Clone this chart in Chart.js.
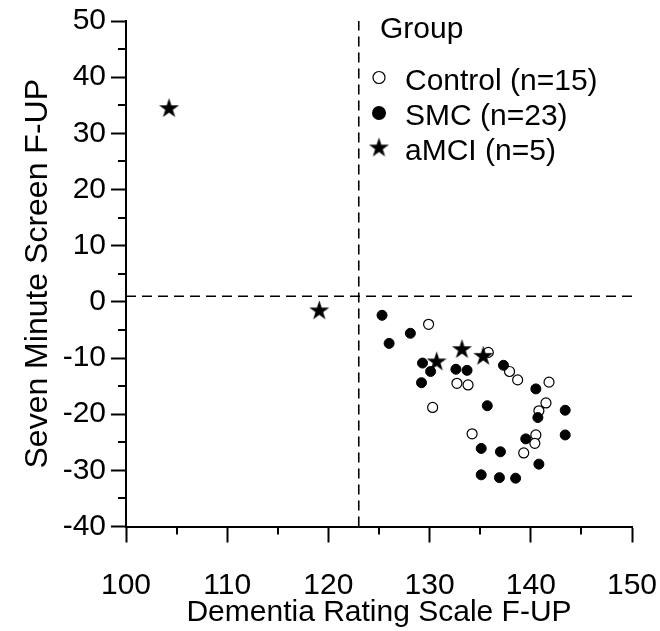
<!DOCTYPE html>
<html>
<head>
<meta charset="utf-8">
<script src="https://cdn.jsdelivr.net/npm/chart.js@4.4.1/dist/chart.umd.min.js"></script>
<style>
  html, body { margin: 0; padding: 0; background: #fff; }
  #c { display: block; }
</style>
</head>
<body>
<canvas id="c" width="660" height="631"></canvas>
<script>
// Follow-up scores: Dementia Rating Scale (x) vs Seven Minute Screen (y)
const controlX = [129.9, 135.8, 132.7, 133.8, 130.3, 137.9, 138.7, 141.8, 141.5, 140.8, 134.2, 140.5, 140.4, 139.3];
const controlY = [-4.0, -9.0, -14.5, -14.8, -18.8, -12.4, -13.9, -14.3, -18.0, -19.4, -23.5, -23.7, -25.2, -26.9];

const smcX = [125.3, 128.1, 126.0, 129.3, 130.1, 132.6, 133.7, 137.3, 129.2, 135.7, 140.5,
              143.4, 140.7, 143.4, 139.5, 135.1, 137.0, 140.8, 135.1, 136.9, 138.5];
const smcY = [-2.4, -5.6, -7.4, -10.9, -12.4, -12.0, -12.2, -11.3, -14.4, -18.5, -15.5,
              -19.3, -20.6, -23.7, -24.4, -26.1, -26.7, -28.9, -30.8, -31.3, -31.4];

const amciX = [104.25, 119.1, 133.2, 135.3, 130.7];
const amciY = [34.4, -1.6, -8.5, -9.7, -10.7];

const groupLabels = ['Control (n=15)', 'SMC (n=23)', 'aMCI (n=5)'];

// Cut-off reference lines
const cutX = 123;
const cutY = 1;

// Axis ranges and ticks
const xMin = 100, xMax = 150, xStep = 10;
const yMin = -40, yMax = 50, yStep = 10;
const xMinorTicks = [105, 115, 125, 135, 145];
const yMinorTicks = [45, 35, 25, 15, 5, -5, -15, -25, -35];

const FONT = "'Liberation Sans', Arial, sans-serif";

function toPoints(xs, ys) { return xs.map((x, i) => ({ x: x, y: ys[i] })); }

// Filled five-pointed star used as a point marker
function makeStar(R) {
  const size = Math.ceil(2 * R + 4);
  const cv = document.createElement('canvas');
  cv.width = size; cv.height = size;
  const g = cv.getContext('2d');
  const c = size / 2, r = R * 0.382;
  g.beginPath();
  for (let k = 0; k < 10; k++) {
    const a = -Math.PI / 2 + k * Math.PI / 5;
    const rr = k % 2 === 0 ? R : r;
    const px = c + rr * Math.cos(a), py = c + rr * Math.sin(a);
    if (k === 0) g.moveTo(px, py); else g.lineTo(px, py);
  }
  g.closePath();
  g.fillStyle = '#000';
  g.fill();
  return cv;
}
const starMark = makeStar(10.5);
const starLegend = makeStar(10.5);

// Minor ticks on both axes and the legend block
const decorPlugin = {
  id: 'decor',
  afterDraw(chart) {
    const ctx = chart.ctx;
    const xs = chart.scales.x, ys = chart.scales.y;
    const area = chart.chartArea;
    ctx.save();
    ctx.strokeStyle = '#000';
    ctx.lineWidth = 2;
    ctx.beginPath();
    xMinorTicks.forEach(v => {
      const px = Math.round(xs.getPixelForValue(v));
      ctx.moveTo(px, area.bottom);
      ctx.lineTo(px, area.bottom + 8);
    });
    yMinorTicks.forEach(v => {
      const py = Math.round(ys.getPixelForValue(v));
      ctx.moveTo(area.left, py);
      ctx.lineTo(area.left - 8, py);
    });
    ctx.stroke();

    // legend
    ctx.fillStyle = '#000';
    ctx.font = '30px ' + FONT;
    ctx.textAlign = 'left';
    ctx.textBaseline = 'alphabetic';
    ctx.fillText('Group', 380, 38);
    const rowsY = [77.5, 113, 148];
    const mx = 379, tx = 405;
    // open circle
    ctx.beginPath();
    ctx.arc(mx, rowsY[0], 6, 0, Math.PI * 2);
    ctx.fillStyle = '#fff';
    ctx.fill();
    ctx.lineWidth = 1.2;
    ctx.strokeStyle = '#000';
    ctx.stroke();
    // filled circle
    ctx.beginPath();
    ctx.arc(mx, rowsY[1], 7, 0, Math.PI * 2);
    ctx.fillStyle = '#000';
    ctx.fill();
    // star
    ctx.drawImage(starLegend, mx - starLegend.width / 2, rowsY[2] - starLegend.height / 2);
    groupLabels.forEach((t, i) => ctx.fillText(t, tx, rowsY[i] + 12));
    ctx.restore();
  }
};

const tickFont = { family: FONT, size: 30 };

new Chart(document.getElementById('c'), {
  type: 'scatter',
  data: {
    datasets: [
      {
        label: groupLabels[2],
        data: toPoints(amciX, amciY),
        pointStyle: starMark,
        order: 0
      },
      {
        label: groupLabels[1],
        data: toPoints(smcX, smcY),
        pointStyle: 'circle',
        pointRadius: 5,
        backgroundColor: '#000',
        borderColor: '#000',
        borderWidth: 1,
        order: 1
      },
      {
        label: groupLabels[0],
        data: toPoints(controlX, controlY),
        pointStyle: 'circle',
        pointRadius: 5,
        backgroundColor: '#fff',
        borderColor: '#000',
        borderWidth: 1.2,
        order: 2
      },
      {
        label: 'cut-x',
        data: [{ x: cutX, y: yMin }, { x: cutX, y: yMax }],
        showLine: true,
        pointRadius: 0,
        borderColor: '#000',
        borderWidth: 1.6,
        borderDash: [10, 6],
        order: 3
      },
      {
        label: 'cut-y',
        data: [{ x: xMin, y: cutY }, { x: xMax, y: cutY }],
        showLine: true,
        pointRadius: 0,
        borderColor: '#000',
        borderWidth: 1.6,
        borderDash: [10, 6],
        order: 3
      }
    ]
  },
  options: {
    responsive: false,
    animation: false,
    devicePixelRatio: 1,
    events: [],
    layout: { padding: { top: 21, right: 28, bottom: 0, left: 0 } },
    plugins: { legend: { display: false }, tooltip: { enabled: false } },
    scales: {
      x: {
        type: 'linear',
        min: xMin, max: xMax,
        border: { display: true, color: '#000', width: 2 },
        grid: { drawOnChartArea: false, drawTicks: true, tickLength: 16, tickColor: '#000', tickWidth: 2 },
        ticks: { stepSize: xStep, color: '#000', font: tickFont, padding: 25, maxRotation: 0 },
        title: {
          display: true,
          text: 'Dementia Rating Scale F-UP',
          color: '#000',
          font: { family: FONT, size: 30, lineHeight: 1 },
          padding: { top: 0, bottom: 3 }
        },
        afterFit(s) { s.height = 104.5; s.paddingLeft = 0; s.paddingRight = 0; }
      },
      y: {
        type: 'linear',
        min: yMin, max: yMax,
        border: { display: true, color: '#000', width: 2 },
        grid: { drawOnChartArea: false, drawTicks: true, tickLength: 15, tickColor: '#000', tickWidth: 2 },
        ticks: { stepSize: yStep, color: '#000', font: tickFont, padding: 5 },
        title: {
          display: true,
          text: 'Seven Minute Screen F-UP',
          color: '#000',
          font: { family: FONT, size: 32, lineHeight: 1 },
          padding: { top: 22, bottom: 0 }
        },
        afterFit(s) { s.width = 126; s.paddingTop = 0; s.paddingBottom = 0; }
      }
    }
  },
  plugins: [decorPlugin]
});
</script>
</body>
</html>
